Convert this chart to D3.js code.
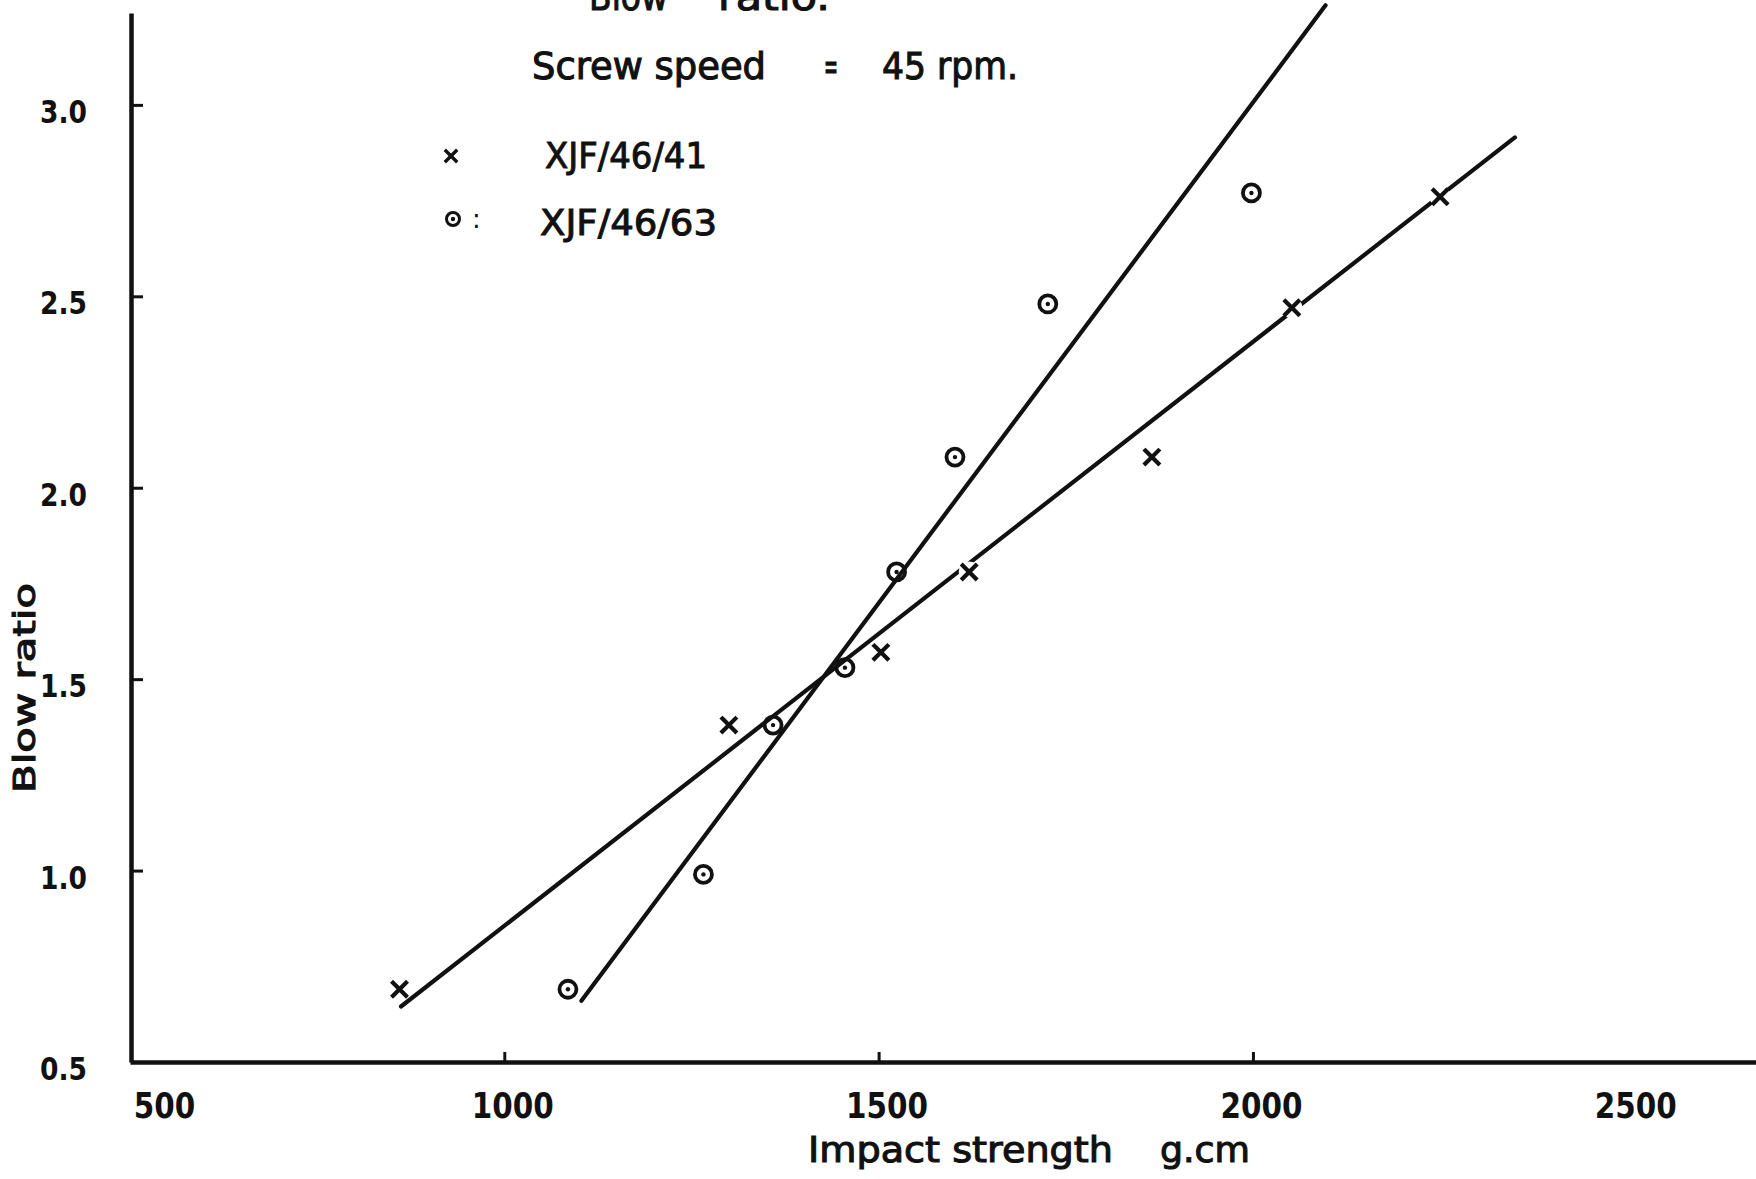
<!DOCTYPE html>
<html>
<head>
<meta charset="utf-8">
<script src="https://cdn.jsdelivr.net/npm/d3@7.9.0/dist/d3.min.js"></script>
<style>
  html, body { margin: 0; padding: 0; background: #fff; }
  svg { display: block; }
  text { font-family: "DejaVu Sans", "Liberation Sans", sans-serif; fill: #111; }
</style>
</head>
<body>
<svg id="chart" width="1756" height="1179"></svg>
<script>
// ─── Data ────────────────────────────────────────────────────────────────────
// XJF/46/41 (crosses)
const xjf41Impact = [860, 1300, 1503, 1621, 1865, 2052, 2250];
const xjf41Blow   = [0.69, 1.38, 1.57, 1.78, 2.08, 2.47, 2.76];
// XJF/46/63 (dotted circles)
const xjf63Impact = [1085, 1266, 1359, 1455, 1524, 1602, 1726, 1998];
const xjf63Blow   = [0.69, 0.99, 1.38, 1.53, 1.78, 2.08, 2.48, 2.77];
// hand-drawn fit lines (end points)
const fit41Impact = [862, 2350];
const fit41Blow   = [0.645, 2.915];
const fit63Impact = [1103, 2097];
const fit63Blow   = [0.66, 3.26];

// axes
const xTicks = [500, 1000, 1500, 2000, 2500];
const xTickMarks = [1000, 1500, 2000];
const yTicks = [0.5, 1.0, 1.5, 2.0, 2.5, 3.0];
const yTickLabels = ['0.5', '1.0', '1.5', '2.0', '2.5', '3.0'];
const xTitle = ['Impact strength', 'g.cm'];
const yTitle = 'Blow ratio';
const headerTop = ['Blow', 'ratio.'];
const headerSpeed = ['Screw speed', '=', '45 rpm.'];
const seriesNames = ['XJF/46/41', 'XJF/46/63'];

// ─── Scales ──────────────────────────────────────────────────────────────────
const svg = d3.select('#chart');
const x = d3.scaleLinear().domain([500, 2672]).range([130, 1756]);
const y = d3.scaleLinear().domain([0.5, 3.24]).range([1062, 13]);
const ink = '#111';

// ─── Axes ────────────────────────────────────────────────────────────────────
const xAxis = svg.append('g')
    .attr('transform', `translate(0,${y(0.5)})`)
    .call(d3.axisBottom(x).tickValues(xTicks).tickFormat(d3.format('d'))
        .tickSizeInner(-10).tickSizeOuter(0).tickPadding(30));
xAxis.select('.domain').attr('stroke', ink).attr('stroke-width', 4.5);
xAxis.selectAll('.tick line')
    .attr('stroke', ink).attr('stroke-width', 3)
    .attr('display', d => xTickMarks.includes(d) ? null : 'none');
xAxis.selectAll('.tick text')
    .attr('font-size', 36).attr('font-weight', 'bold').attr('fill', ink)
    .attr('dx', d => d === 500 ? 34 : 8)
    .attr('textLength', d => String(d).length * 20.5)
    .attr('lengthAdjust', 'spacingAndGlyphs');

const yAxis = svg.append('g')
    .attr('transform', `translate(${x(500) + 1},0)`)
    .call(d3.axisLeft(y).tickValues(yTicks).tickSizeInner(-12).tickSizeOuter(0).tickPadding(44)
        .tickFormat((d, i) => yTickLabels[i]));
yAxis.select('.domain').attr('stroke', ink).attr('stroke-width', 4.5);
yAxis.selectAll('.tick line')
    .attr('stroke', ink).attr('stroke-width', 3)
    .attr('display', d => d === 0.5 ? 'none' : null);
yAxis.selectAll('.tick text')
    .attr('font-size', 32).attr('font-weight', 'bold').attr('fill', ink)
    .attr('dy', '0.55em')
    .attr('textLength', 47).attr('lengthAdjust', 'spacingAndGlyphs');

// axis titles
svg.append('text')
    .attr('x', 808).attr('y', 1162).attr('font-size', 36)
    .attr('stroke', ink).attr('stroke-width', 1.1)
    .attr('textLength', 305).attr('lengthAdjust', 'spacingAndGlyphs')
    .text(xTitle[0]);
svg.append('text')
    .attr('x', 1160).attr('y', 1162).attr('font-size', 36)
    .attr('stroke', ink).attr('stroke-width', 1.1)
    .attr('textLength', 90).attr('lengthAdjust', 'spacingAndGlyphs')
    .text(xTitle[1]);
svg.append('text')
    .attr('transform', 'translate(35,688) rotate(-90)')
    .attr('text-anchor', 'middle').attr('font-size', 31)
    .attr('stroke', ink).attr('stroke-width', 1.1)
    .attr('textLength', 210).attr('lengthAdjust', 'spacingAndGlyphs')
    .text(yTitle);

// ─── Fit lines ───────────────────────────────────────────────────────────────
const line = d3.line().x(d => x(d[0])).y(d => y(d[1]));
[[fit41Impact, fit41Blow], [fit63Impact, fit63Blow]].forEach(([xs, ys]) => {
    svg.append('path')
        .attr('d', line(d3.zip(xs, ys)))
        .attr('fill', 'none').attr('stroke', ink)
        .attr('stroke-width', 4.2).attr('stroke-linecap', 'round');
});

// ─── Markers ─────────────────────────────────────────────────────────────────
function cross(g, half, width) {
    g.append('circle').attr('r', half + 4).attr('fill', '#fff');
    g.append('path')
        .attr('d', `M${-half},${-half}L${half},${half}M${half},${-half}L${-half},${half}`)
        .attr('stroke', ink).attr('stroke-width', width).attr('stroke-linecap', 'square');
}
function dottedCircle(g, r, width) {
    g.append('circle').attr('r', r).attr('fill', 'none')
        .attr('stroke', ink).attr('stroke-width', width);
    g.append('circle').attr('r', 2.2).attr('fill', ink);
}

d3.zip(xjf41Impact, xjf41Blow).forEach(([a, b]) => {
    cross(svg.append('g').attr('transform', `translate(${x(a)},${y(b)})`), 6.5, 4.2);
});
d3.zip(xjf63Impact, xjf63Blow).forEach(([a, b]) => {
    dottedCircle(svg.append('g').attr('transform', `translate(${x(a)},${y(b)})`), 8.5, 3.8);
});

// ─── Header text + legend ────────────────────────────────────────────────────
const header = [
    [headerTop[0], 589, 10, 79], [headerTop[1], 718, 10, 112],
    [headerSpeed[0], 532, 79, 234], [headerSpeed[1], 824, 79, 14], [headerSpeed[2], 882, 79, 136]
];
header.forEach(([t, hx, hy, len]) => {
    svg.append('text')
        .attr('x', hx).attr('y', hy).attr('font-size', 38)
        .attr('stroke', ink).attr('stroke-width', 1.1)
        .attr('textLength', len).attr('lengthAdjust', 'spacingAndGlyphs')
        .text(t);
});

cross(svg.append('g').attr('transform', 'translate(451,156)'), 5, 3.4);
dottedCircle(svg.append('g').attr('transform', 'translate(453,219)'), 6.5, 3);
svg.append('text').attr('x', 472).attr('y', 228).attr('font-size', 26)
    .attr('fill', '#777').text(':');

svg.append('text')
    .attr('x', 545).attr('y', 168).attr('font-size', 36)
    .attr('stroke', ink).attr('stroke-width', 1.0)
    .attr('textLength', 162).attr('lengthAdjust', 'spacingAndGlyphs')
    .text(seriesNames[0]);
svg.append('text')
    .attr('x', 540).attr('y', 235).attr('font-size', 36)
    .attr('stroke', ink).attr('stroke-width', 1.0)
    .attr('textLength', 177).attr('lengthAdjust', 'spacingAndGlyphs')
    .text(seriesNames[1]);
</script>
</body>
</html>
